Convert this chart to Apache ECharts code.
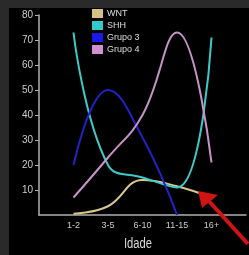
<!DOCTYPE html>
<html>
<head>
<meta charset="utf-8">
<script src="https://cdn.jsdelivr.net/npm/echarts@6/dist/echarts.min.js"></script>
<style>
html,body{margin:0;padding:0;background:#2a2a2a;}
#chart{width:249px;height:255px;}
</style>
</head>
<body>
<div id="chart"></div>
<script>
var idades = ['', '1-2', '3-5', '6-10', '11-15', '16+', ''];
var wnt = [null, 0.5, 3.5, 14, 11.5, 7, null];
var shh = [null, 73, 20, 15, 11, 71, null];
var grupo3 = [null, 20, 50, 31, 0, null, null];
var grupo4 = [null, 7, 23, 40, 73, 21, null];
var yTicks = [0, 80, 10];

var fonte = '"Liberation Sans", Arial, sans-serif';

var myChart = echarts.init(document.getElementById('chart'));

function linha(nome, dados, cor) {
	return {
		name: nome,
		type: 'line',
		data: dados,
		smooth: 0.45,
		showSymbol: false,
		lineStyle: { color: cor, width: 2 },
		itemStyle: { color: cor },
		z: 3
	};
}

option = {
	backgroundColor: '#2a2a2a',
	animation: false,
	graphic: [
		{ type: 'rect', shape: { x: 9, y: 8, width: 240, height: 247 }, style: { fill: '#000' }, z: -10 },
		{ type: 'text', x: 138, y: 244, scaleX: 0.8, style: { text: 'Idade', fill: '#d8d8d8', font: '14px ' + fonte, textAlign: 'center', textVerticalAlign: 'middle' }, z: 5 },
		{ type: 'line', shape: { x1: 248, y1: 244, x2: 207, y2: 199 }, style: { stroke: '#d01414', lineWidth: 4 }, z: 10 },
		{ type: 'polygon', shape: { points: [[198, 191], [218, 195], [202, 208]] }, style: { fill: '#d01414' }, z: 10 }
	],
	legend: {
		orient: 'vertical',
		left: 92,
		top: 9,
		padding: 0,
		itemWidth: 11,
		itemHeight: 9,
		itemGap: 3,
		icon: 'rect',
		textStyle: { color: '#dddddd', fontSize: 9, fontFamily: fonte, padding: [0, 0, 0, -1] },
		data: [
			{ name: 'WNT', itemStyle: { color: '#d6c184' } },
			{ name: 'SHH', itemStyle: { color: '#33c9cc' } },
			{ name: 'Grupo 3', itemStyle: { color: '#1a1ae6' } },
			{ name: 'Grupo 4', itemStyle: { color: '#d38fd3' } }
		]
	},
	grid: { left: 39, top: 15, width: 213, height: 200, containLabel: false },
	xAxis: {
		type: 'category',
		data: idades,
		boundaryGap: false,
		axisLine: { lineStyle: { color: '#b0b0b0', width: 1.5 } },
		axisTick: { show: false },
		axisLabel: { color: '#cccccc', fontSize: 9, fontFamily: fonte, margin: 6, interval: 0 },
		splitLine: { show: false }
	},
	yAxis: {
		type: 'value',
		min: yTicks[0],
		max: yTicks[1],
		interval: yTicks[2],
		axisLine: { show: true, lineStyle: { color: '#b0b0b0', width: 1.5 } },
		axisTick: { show: true, length: 4, lineStyle: { color: '#b0b0b0' } },
		axisLabel: { color: '#cccccc', fontSize: 10, fontFamily: fonte, margin: 6, showMinLabel: false },
		splitLine: { show: false }
	},
	series: [
		linha('WNT', wnt, '#d8c88e'),
		linha('SHH', shh, '#3ccac8'),
		linha('Grupo 3', grupo3, '#2222c8'),
		linha('Grupo 4', grupo4, '#c893c8')
	]
};

myChart.setOption(option);
</script>
</body>
</html>
